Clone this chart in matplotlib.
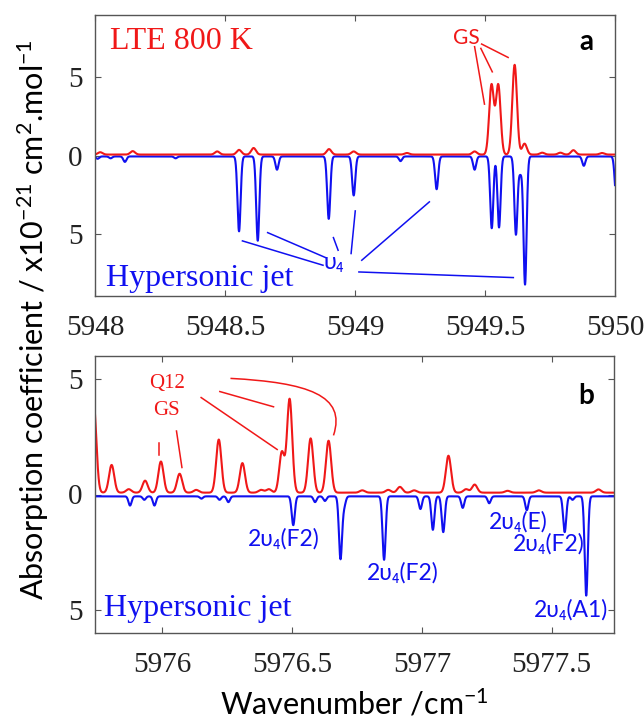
import numpy as np
import matplotlib
matplotlib.use("Agg")
import matplotlib.pyplot as plt
from matplotlib.path import Path
from matplotlib.patches import PathPatch

plt.rcParams['mathtext.default'] = 'regular'

# ---- panel a : 5948 - 5950 cm-1, line centres / peak heights
a_red_pos = [5948.02, 5948.145, 5948.47, 5948.554, 5948.61, 5948.90, 5948.995, 5949.20,
             5949.46, 5949.525, 5949.551, 5949.614, 5949.652, 5949.72, 5949.79, 5949.84, 5949.95]
a_red_amp = [0.15, 0.22, 0.2, 0.3, 0.42, 0.35, 0.2, 0.1,
             0.2, 4.45, 4.45, 5.75, 0.7, 0.12, 0.12, 0.28, 0.1]
a_blue_pos = [5948.01, 5948.06, 5948.115, 5948.31, 5948.554, 5948.626, 5948.70, 5948.899,
              5948.995, 5949.175, 5949.314, 5949.46, 5949.526, 5949.554, 5949.619, 5949.636,
              5949.654, 5949.88, 5950.005]
a_blue_amp = [-0.15, -0.12, -0.35, -0.12, -4.8, -5.4, -0.85, -4.0,
              -2.5, -0.3, -2.1, -0.85, -4.6, -4.55, -5.0, -1.0,
              -8.2, -0.6, -2.6]

# ---- panel b : 5975.74 - 5977.74 cm-1
b_red_pos = [5975.735, 5975.804, 5975.87, 5975.933, 5975.994, 5976.066, 5976.13, 5976.217,
             5976.308, 5976.38, 5976.41, 5976.46, 5976.49, 5976.571, 5976.64, 5976.77,
             5976.87, 5976.915, 5976.97, 5977.102, 5977.17, 5977.203, 5977.33, 5977.45, 5977.68]
b_red_amp = [3.85, 1.2, 0.15, 0.52, 1.35, 0.82, 0.12, 2.3,
             1.28, 0.12, 0.15, 1.75, 4.05, 2.35, 2.25, 0.1,
             0.12, 0.25, 0.1, 1.6, 0.15, 0.35, 0.08, 0.1, 0.14]
b_blue_pos = [5975.875, 5975.93, 5975.969, 5976.15, 5976.22, 5976.254, 5976.504, 5976.588,
              5976.626, 5976.686, 5976.70, 5976.854, 5976.994, 5977.042, 5977.082, 5977.157,
              5977.259, 5977.404, 5977.55, 5977.58, 5977.633]
b_blue_amp = [-0.4, -0.15, -0.4, -0.1, -0.15, -0.25, -1.25, -0.25,
              -0.2, -2.7, -0.4, -2.75, -0.55, -1.45, -1.55, -0.5,
              -0.3, -0.6, -1.55, -0.15, -4.3]

# labels of the blue bands in panel b  (x, y, text)
b_band_x = [5976.469, 5976.925, 5977.372, 5977.49, 5977.573]
b_band_y = [-2.21, -3.70, -1.47, -2.42, -5.31]
b_band_txt = ['2υ₄(F2)', '2υ₄(F2)', '2υ₄(E)', '2υ₄(F2)', '2υ₄(A1)']

RED = '#f01818'
BLUE = '#1010f0'
SERIF = 'Liberation Serif'
SANS = ['Lato', 'DejaVu Sans']


def spectrum(x, pos, amp, sig, base):
    y = np.full_like(x, base)
    for p, h in zip(pos, amp):
        y += h * np.exp(-0.5 * ((x - p) / sig) ** 2)
    return y


def style_axes(ax, xticks, xlabels, ylim):
    ax.set_ylim(ylim)
    ax.set_xticks(xticks)
    ax.set_xticklabels(xlabels)
    ax.set_yticks([-5, 0, 5])
    ax.set_yticklabels(['5', '0', '5'])
    ax.tick_params(direction='in', length=4.5, width=0.8, color='#555555',
                   top=True, right=True, labelsize=21, labelcolor='#222222',
                   labelfontfamily=SERIF)
    ax.tick_params(axis='x', pad=14)
    ax.tick_params(axis='y', pad=9)
    for s in ax.spines.values():
        s.set_color('#555555')
        s.set_linewidth(1.0)


fig = plt.figure(figsize=(6.44, 7.2), dpi=100)

# ---------------- panel a
axa = fig.add_axes([95 / 644, 1 - 296 / 720, 520 / 644, 281 / 720])
xa = np.linspace(5948, 5950, 4000)
axa.plot(xa, spectrum(xa, a_blue_pos, a_blue_amp, 0.006, -0.06), color=BLUE, lw=1.5)
axa.plot(xa, spectrum(xa, a_red_pos, a_red_amp, 0.009, 0.06), color=RED, lw=1.5)
axa.set_xlim(5948, 5950)
style_axes(axa, [5948, 5948.5, 5949, 5949.5, 5950],
           ['5948', '5948.5', '5949', '5949.5', '5950'], (-9, 9))

axa.text(5948.056, 6.84, 'LTE 800 K', color=RED, fontfamily=SERIF, fontsize=23,
         ha='left', va='baseline')
axa.text(5948.042, -8.33, 'Hypersonic jet', color=BLUE, fontfamily=SERIF, fontsize=23,
         ha='left', va='baseline')
axa.text(5949.429, 7.16, 'GS', color=RED, family=SANS, fontsize=15, ha='center', va='baseline')
axa.text(5949.89, 6.73, 'a', color='black', family=SANS, fontsize=20, fontweight='bold',
         ha='center', va='baseline')
axa.text(5948.88, -7.3, 'υ₄', color=BLUE, family=SANS, fontsize=17, ha='left', va='baseline')

# pointer lines
for (x0, y0, x1, y1) in [(5949.46, 6.97, 5949.498, 3.29), (5949.484, 6.86, 5949.528, 5.36),
                         (5949.487, 7.14, 5949.589, 6.28)]:
    axa.plot([x0, x1], [y0, y1], color=RED, lw=1.1)
for (x0, y0, x1, y1) in [(5948.877, -7.03, 5948.567, -5.47), (5948.887, -6.54, 5948.664, -4.94),
                         (5948.935, -6.07, 5948.917, -5.26), (5948.985, -6.28, 5949.001, -3.55),
                         (5949.026, -6.71, 5949.286, -2.97), (5949.015, -7.46, 5949.609, -7.82)]:
    axa.plot([x0, x1], [y0, y1], color=BLUE, lw=1.1)

# ---------------- panel b
axb = fig.add_axes([95 / 644, 1 - 633 / 720, 519 / 644, 277 / 720])
xb = np.linspace(5975.74, 5977.74, 4000)
axb.plot(xb, spectrum(xb, b_blue_pos, b_blue_amp, 0.006, -0.08), color=BLUE, lw=1.5)
axb.plot(xb, spectrum(xb, b_red_pos, b_red_amp, 0.010, 0.08), color=RED, lw=1.5)
axb.set_xlim(5975.74, 5977.74)
style_axes(axb, [5976, 5976.5, 5977, 5977.5],
           ['5976', '5976.5', '5977', '5977.5'], (-6, 6))

axb.text(5976.016, 4.6, 'Q12', color=RED, fontfamily=SERIF, fontsize=15, ha='center', va='baseline')
axb.text(5976.016, 3.46, 'GS', color=RED, fontfamily=SERIF, fontsize=15, ha='center', va='baseline')
axb.text(5977.632, 3.92, 'b', color='black', family=SANS, fontsize=20, fontweight='bold',
         ha='center', va='baseline')
axb.text(5975.775, -5.27, 'Hypersonic jet', color=BLUE, fontfamily=SERIF, fontsize=23,
         ha='left', va='baseline')
for x, y, t in zip(b_band_x, b_band_y, b_band_txt):
    axb.text(x, y, t, color=BLUE, family=SANS, fontsize=16.5, ha='center', va='baseline')

for (x0, y0, x1, y1) in [(5975.986, 2.24, 5975.986, 1.71), (5976.054, 2.75, 5976.075, 1.17),
                         (5976.149, 4.20, 5976.442, 1.95), (5976.221, 4.46, 5976.428, 3.80)]:
    axb.plot([x0, x1], [y0, y1], color=RED, lw=1.1)
curve = Path([(5976.262, 5.03), (5976.56, 4.85), (5976.71, 4.3), (5976.659, 2.56)],
             [Path.MOVETO, Path.CURVE4, Path.CURVE4, Path.CURVE4])
axb.add_patch(PathPatch(curve, facecolor='none', edgecolor=RED, lw=1.1))

# ---------------- axis titles
fig.text(33 / 644, 1 - 320 / 720, 'Absorption coefficient / x10$^{-21}$ cm$^{2}$.mol$^{-1}$',
         rotation=90, ha='center', va='center', family=SANS, fontsize=22)
fig.text(354.5 / 644, 1 - 715 / 720, 'Wavenumber /cm$^{-1}$', ha='center', va='baseline',
         family=SANS, fontsize=22)

fig.savefig('out.png', dpi=100)
